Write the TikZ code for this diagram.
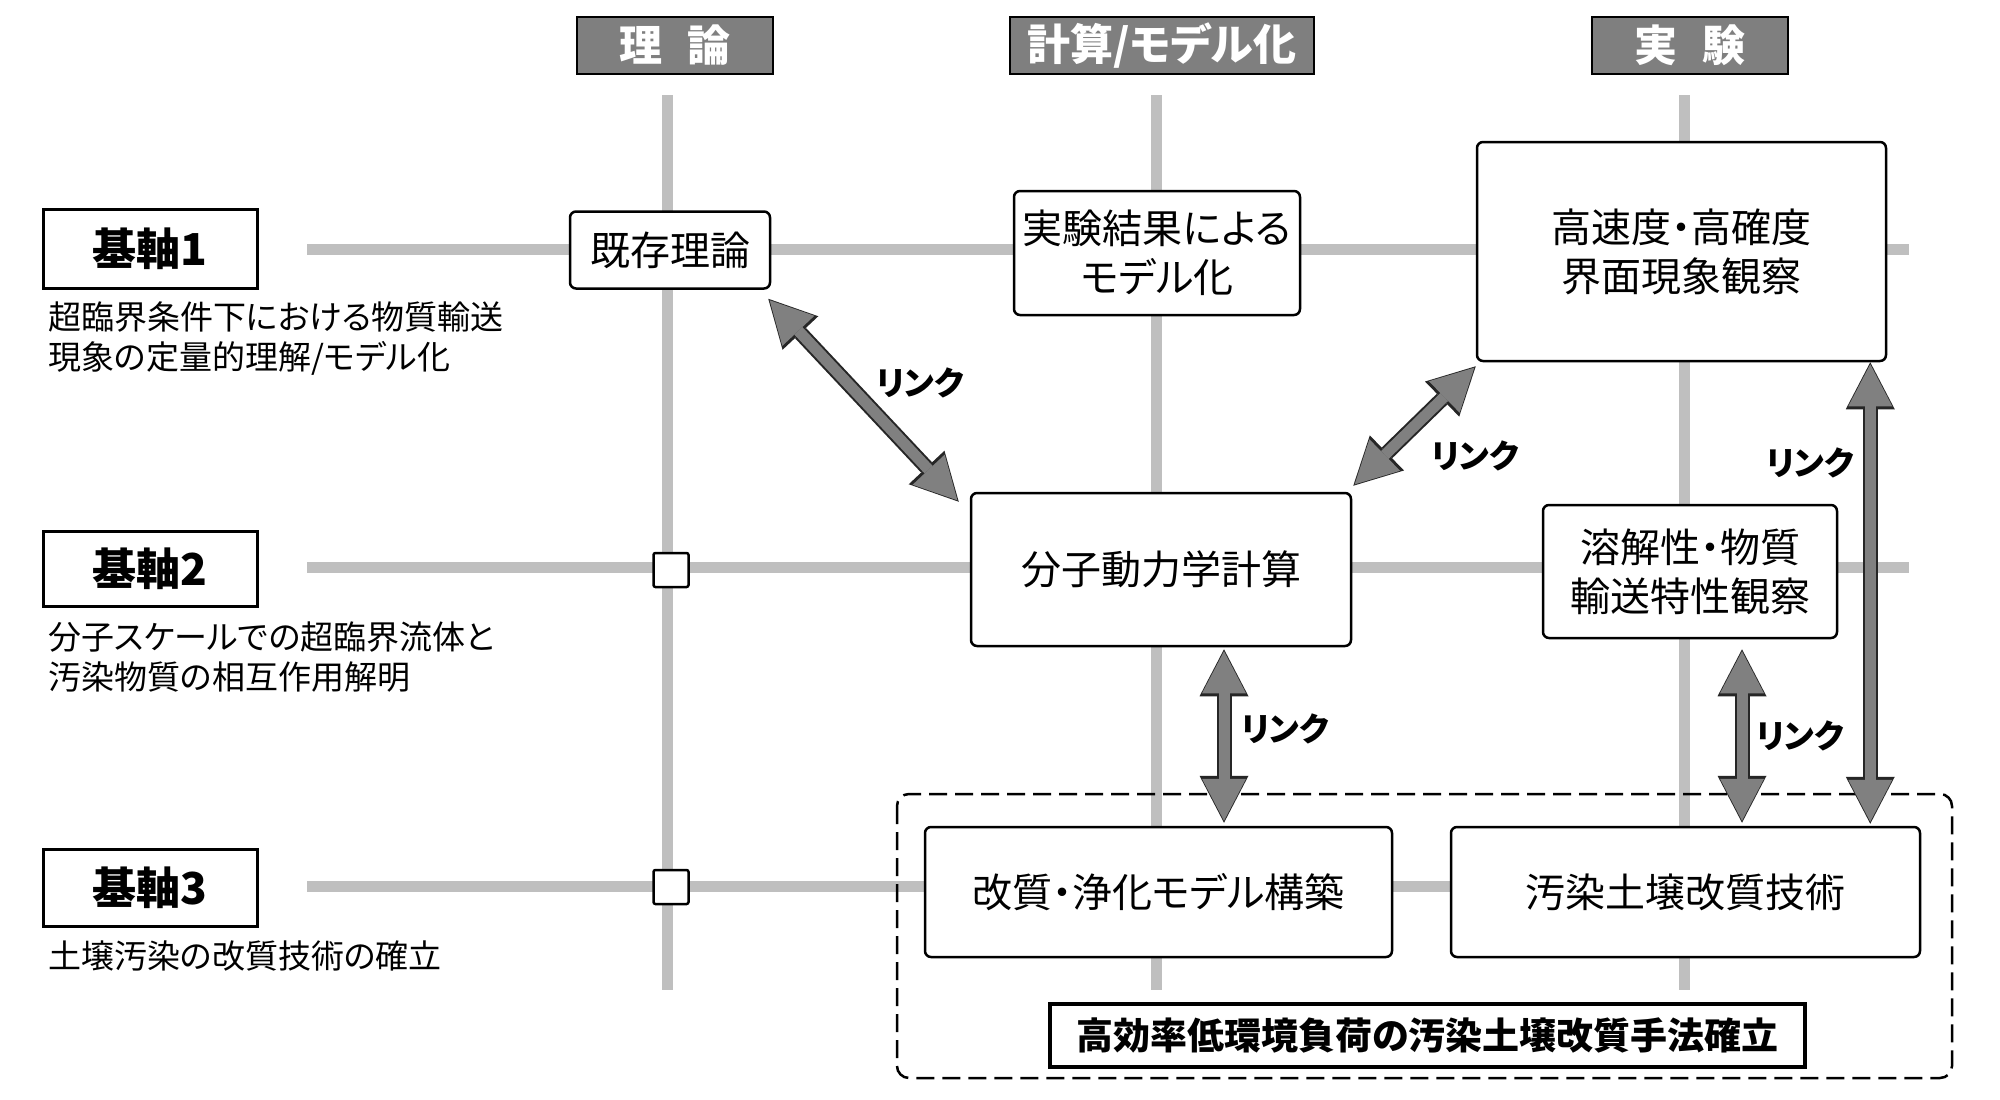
\documentclass[tikz,border=0pt]{standalone}
\usepackage{fontspec}
\setmainfont{Noto Sans CJK JP}[RawFeature=+palt]
\usetikzlibrary{arrows.meta,calc}
\definecolor{gridgray}{HTML}{BFBFBF}
\definecolor{headgray}{HTML}{7F7F7F}
\definecolor{arrowgray}{HTML}{808080}
\tikzset{
 gridline/.style={draw=gridgray,line width=11pt},
 header/.style={draw=black,line width=2.5pt,fill=headgray,text=white,font=\fontsize{43}{50}\selectfont\bfseries,inner sep=0pt,minimum height=57pt},
 axisbox/.style={draw=black,line width=3pt,fill=white,font=\fontsize{44}{50}\selectfont\bfseries,inner sep=0pt,minimum width=214pt},
 desc/.style={anchor=west,align=left,font=\fontsize{33}{40}\selectfont,inner sep=0pt},
 item/.style={draw=black,line width=2.5pt,fill=white,rounded corners=6pt,align=center,font=\fontsize{40}{49}\selectfont,inner sep=0pt},
 marker/.style={draw=black,line width=2.5pt,fill=white,rounded corners=2pt,minimum width=35pt,minimum height=34pt,inner sep=0pt},
 linklabel/.style={font=\fontsize{33}{36}\selectfont\bfseries,inner sep=0pt},
 goalbox/.style={draw=black,line width=4.5pt,fill=white,font=\fontsize{37}{40}\selectfont\bfseries,inner sep=0pt,minimum width=755pt,minimum height=63pt},
 frame/.style={draw=black,line width=2.5pt,dash pattern=on 18pt off 8pt,rounded corners=12pt},
 linkouter/.style={draw=black!85,line width=15pt,{Triangle[width=49pt,length=47pt,line width=0pt]}-{Triangle[width=49pt,length=47pt,line width=0pt]}},
 linkinner/.style={draw=arrowgray,line width=11pt,shorten <=2pt,shorten >=2pt,{Triangle[width=44pt,length=42pt,line width=0pt]}-{Triangle[width=44pt,length=42pt,line width=0pt]}},
}
\begin{document}
\begin{tikzpicture}[x=1pt,y=-1pt]
\useasboundingbox[fill=white] (0,0) rectangle (2000,1100);
% grid lines
\coordinate (c1t) at (667,95);  \coordinate (c1b) at (667,990);
\coordinate (c2t) at (1156,95); \coordinate (c2b) at (1156,990);
\coordinate (c3t) at (1684,95); \coordinate (c3b) at (1684,990);
\coordinate (r1l) at (307,249);   \coordinate (r1r) at (1909,249);
\coordinate (r2l) at (307,567.5); \coordinate (r2r) at (1909,567.5);
\coordinate (r3l) at (307,886);   \coordinate (r3r) at (1909,886);
\draw[gridline] (c1t) -- (c1b);
\draw[gridline] (c2t) -- (c2b);
\draw[gridline] (c3t) -- (c3b);
\draw[gridline] (r1l) -- (r1r);
\draw[gridline] (r2l) -- (r2r);
\draw[gridline] (r3l) -- (r3r);
% headers
\node[header,minimum width=196pt] (hth) at (675,45.5) {理\hspace{26pt}論};
\node[header,minimum width=304pt] (hcm) at (1162,45.5) {計算/モデル化};
\node[header,minimum width=196pt] (hex) at (1690,45.5) {実\hspace{26pt}験};
% axis boxes
\node[axisbox,minimum height=79pt] (k1) at (150,248.5) {基軸1};
\node[axisbox,minimum height=75pt] (k2) at (150,569) {基軸2};
\node[axisbox,minimum height=77pt] (k3) at (150,887.5) {基軸3};
% descriptions
\node[desc] (d1) at (48,339) {超臨界条件下における物質輸送\\現象の定量的理解/モデル化};
\node[desc] (d2) at (48,657) {分子スケールでの超臨界流体と\\汚染物質の相互作用解明};
\node[desc] (d3) at (48,956) {土壌汚染の改質技術の確立};
% items
\node[item,minimum width=200pt,minimum height=77pt] (kizon) at (670,250) {既存理論};
\node[item,minimum width=286pt,minimum height=124pt] (jikken) at (1157,253) {実験結果による\\モデル化};
\node[item,minimum width=409pt,minimum height=219pt] (kosoku) at (1681.5,251.5) {高速度・高確度\\界面現象観察};
\node[item,minimum width=380pt,minimum height=153pt] (md) at (1161,569.5) {分子動力学計算};
\node[item,minimum width=294pt,minimum height=133pt] (yokai) at (1690,571.5) {溶解性・物質\\輸送特性観察};
\node[item,minimum width=467pt,minimum height=130pt] (kaishitsu) at (1158.5,892) {改質・浄化モデル構築};
\node[item,minimum width=469pt,minimum height=130pt] (osen) at (1685.5,892) {汚染土壌改質技術};
\node[marker] (m2) at (671,570) {};
\node[marker] (m3) at (671,887) {};
% frame and goal
\draw[frame] (897,794) rectangle (1952,1078);
\node[goalbox] (goal) at (1427.5,1035.5) {高効率低環境負荷の汚染土壌改質手法確立};
% link arrows
\coordinate (a1s) at ($(kizon.south east)+(-3,9)$);
\coordinate (a1e) at ($(md.north west)+(-11,10)$);
\coordinate (a2s) at ($(kosoku.south west)+(0,4)$);
\coordinate (a2e) at ($(md.north east)+(1,-6)$);
\coordinate (a3s) at ($(kosoku.south east)+(-17,0)$);
\coordinate (a3e) at ($(osen.north east)+(-51,-2)$);
\coordinate (a4s) at ($(md.south)+(63,2)$);
\coordinate (a4e) at ($(kaishitsu.north)+(65.5,-3)$);
\coordinate (a5s) at ($(yokai.south)+(52,10)$);
\coordinate (a5e) at ($(osen.north)+(56.5,-3)$);
\foreach \s/\e in {a1s/a1e,a2s/a2e,a3s/a3e,a4s/a4e,a5s/a5e}{
  \draw[linkouter] (\s) -- (\e);
  \draw[linkinner] (\s) -- (\e);
}
\node[linklabel] (l1) at (920,383) {リンク};
\node[linklabel] (l2) at (1475,456) {リンク};
\node[linklabel] (l3) at (1810,463) {リンク};
\node[linklabel] (l4) at (1285,729) {リンク};
\node[linklabel] (l5) at (1800,736) {リンク};
\end{tikzpicture}
\end{document}
